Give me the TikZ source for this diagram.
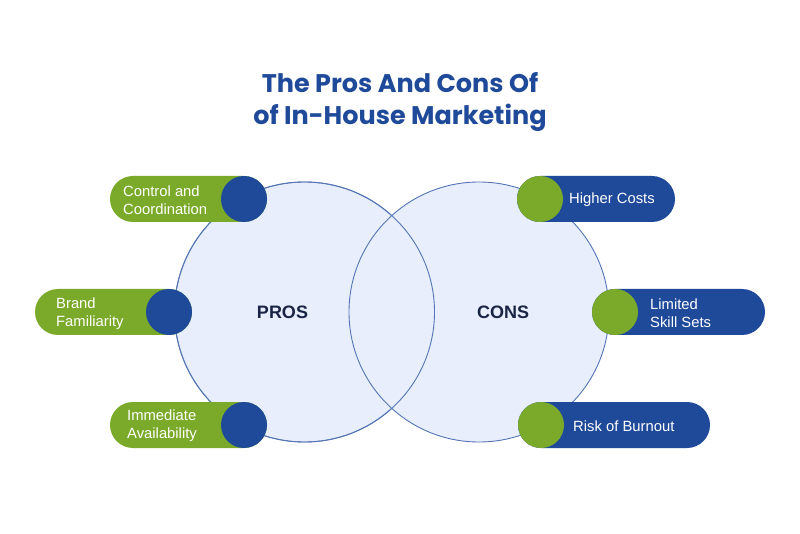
\documentclass[tikz,border=0pt]{standalone}
\usepackage{fontspec}
\setmainfont{Liberation Sans}
\newfontfamily\titlefont{Poppins}
\definecolor{pgreen}{HTML}{7BAA2A}
\definecolor{pblue}{HTML}{1F4A9A}
\definecolor{cfill}{HTML}{E8EEFC}
\definecolor{cline}{HTML}{5575B5}
\definecolor{navy}{HTML}{1A2444}
\begin{document}
\begin{tikzpicture}[x=1pt,y=-1pt,
  venn/.style={circle,minimum size=260pt,inner sep=0pt,fill=cfill,draw=cline,line width=0.9pt},
  pillg/.style={rectangle,rounded corners=23pt,minimum height=46pt,inner sep=0pt,fill=pgreen},
  pillb/.style={rectangle,rounded corners=23pt,minimum height=46pt,inner sep=0pt,fill=pblue},
  dotb/.style={circle,minimum size=46pt,inner sep=0pt,fill=pblue},
  dotg/.style={circle,minimum size=46pt,inner sep=0pt,fill=pgreen},
  lbl/.style={text=white,font=\fontsize{14.8}{18}\selectfont,align=left,anchor=west,inner sep=0pt},
  big/.style={text=navy,font=\fontsize{18}{20}\selectfont\bfseries}]
\useasboundingbox[fill=white] (0,0) rectangle (800,534);
% title
\node[text=pblue,font=\titlefont\fontsize{25.5}{32}\selectfont\bfseries,align=center] (title) at (400,102.5) {The Pros And Cons Of\\of In-House Marketing};
% venn circles
\node[venn] (L) at (304.5,312) {};
\node[venn] (R) at (479,312) {};
\draw[cline,line width=0.9pt] (L.center) circle[radius=130pt];
\node[big] (pros) at (282.5,312.5) {PROS};
\node[big] (cons) at (503,312.5) {CONS};
% left pills
\node[pillg,minimum width=157pt] (p1) at (188.5,199) {};
\node[dotb] (d1) at (244,199) {};
\node[lbl] (t1) at (123,200.5) {Control and\\Coordination};
\node[pillg,minimum width=157pt] (p2) at (113.5,312) {};
\node[dotb] (d2) at (169,312) {};
\node[lbl] (t2) at (56,313.5) {Brand\\Familiarity};
\node[pillg,minimum width=157pt] (p3) at (188.5,425) {};
\node[dotb] (d3) at (244,425) {};
\node[lbl] (t3) at (127,426) {Immediate\\Availability};
% right pills
\node[pillb,minimum width=158pt] (q1) at (596,199) {};
\node[dotg] (e1) at (540,199) {};
\node[lbl] (u1) at (569,200) {Higher Costs};
\node[pillb,minimum width=173pt] (q2) at (678.5,312) {};
\node[dotg] (e2) at (615,312) {};
\node[lbl] (u2) at (650,313.5) {Limited\\Skill Sets};
\node[pillb,minimum width=192pt] (q3) at (614,425) {};
\node[dotg] (e3) at (541,425) {};
\node[lbl] (u3) at (573,426) {Risk of Burnout};
\end{tikzpicture}
\end{document}
